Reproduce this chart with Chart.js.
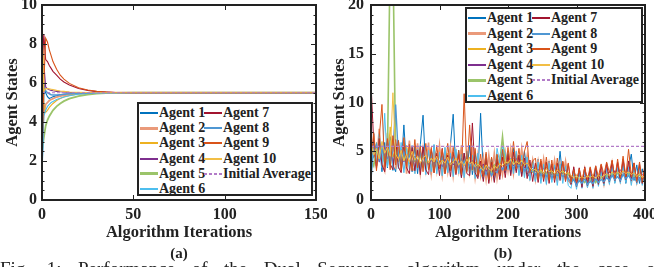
<!DOCTYPE html>
<html>
<head>
<meta charset="utf-8">
<script src="https://cdn.jsdelivr.net/npm/chart.js@4.4.1/dist/chart.umd.min.js"></script>
<style>
  body { margin: 0; width: 654px; height: 267px; overflow: hidden; background: #fff; position: relative;
         font-family: 'Liberation Serif', 'Times New Roman', serif; color: #222; }
  canvas { position: absolute; top: 0; }
  #chartA { left: 0; }
  #chartB { left: 327px; }
  .legend { position: absolute; background: #fff; border: 2px solid #222; box-sizing: border-box;
            font-weight: bold; font-size: 14px; }
  .legend .item { position: absolute; height: 15px; line-height: 15px; white-space: nowrap; }
  .legend .swatch { position: absolute; top: 8px; width: 18px; }
  .legend .txt { position: absolute; left: 19px; top: 0; }
  .sub { position: absolute; top: 245px; font-weight: bold; font-size: 15px; line-height: 16px; width: 40px; text-align: center; }
  #caption { position: absolute; left: 0; top: 259px; width: 662px; font-size: 19px; line-height: 19px;
             display: flex; justify-content: space-between; }
</style>
</head>
<body>
<canvas id="chartA" width="327" height="250"></canvas>
<canvas id="chartB" width="327" height="250"></canvas>
<div class="legend" id="legA" style="left:137px; top:102px; width:176px; height:94px;"></div>
<div class="legend" id="legB" style="left:465px; top:7px; width:178px; height:96px;"></div>
<div class="sub" style="left:159px;">(a)</div>
<div class="sub" style="left:483px;">(b)</div>
<div id="caption"><span>Fig.</span><span>1:</span><span>Performance</span><span>of</span><span>the</span><span>Dual</span><span>Sequence</span><span>algorithm</span><span>under</span><span>the</span><span>case</span><span>of</span></div>
<script>
// ---- data ----
const agentLabels = ['Agent 1', 'Agent 2', 'Agent 3', 'Agent 4', 'Agent 5',
                     'Agent 6', 'Agent 7', 'Agent 8', 'Agent 9', 'Agent 10'];
const initialAverage = 5.5;

// (a) consensus run, sampled at these iterations
const itersA = [0, 1, 2, 3, 4, 5, 6, 8, 10, 12, 15, 20, 25, 30, 35, 40, 50, 150];
const statesA = [
  [1.0, 6.0, 5.5, 5.3, 5.2, 5.25, 5.3, 5.35, 5.4, 5.42, 5.45, 5.48, 5.49, 5.5, 5.5, 5.5, 5.5, 5.5],
  [3.0, 4.5, 4.9, 5.0, 5.1, 5.15, 5.2, 5.28, 5.33, 5.37, 5.42, 5.46, 5.48, 5.49, 5.5, 5.5, 5.5, 5.5],
  [10.0, 5.0, 4.5, 4.6, 4.75, 4.85, 4.95, 5.1, 5.2, 5.28, 5.36, 5.44, 5.47, 5.49, 5.5, 5.5, 5.5, 5.5],
  [4.0, 7.0, 5.8, 5.7, 5.65, 5.62, 5.6, 5.57, 5.55, 5.54, 5.52, 5.51, 5.5, 5.5, 5.5, 5.5, 5.5, 5.5],
  [2.5, 3.2, 3.8, 4.1, 4.3, 4.45, 4.6, 4.8, 4.95, 5.07, 5.2, 5.33, 5.41, 5.46, 5.48, 5.49, 5.5, 5.5],
  [1.2, 4.3, 4.6, 4.8, 4.9, 5.0, 5.05, 5.15, 5.22, 5.28, 5.35, 5.42, 5.46, 5.48, 5.49, 5.5, 5.5, 5.5],
  [6.5, 8.5, 7.2, 7.1, 6.9, 6.75, 6.6, 6.4, 6.2, 6.05, 5.9, 5.72, 5.62, 5.56, 5.53, 5.51, 5.5, 5.5],
  [1.5, 5.8, 5.6, 5.5, 5.45, 5.4, 5.38, 5.38, 5.4, 5.42, 5.45, 5.47, 5.49, 5.5, 5.5, 5.5, 5.5, 5.5],
  [2.0, 6.0, 8.3, 8.1, 7.7, 7.4, 7.1, 6.7, 6.4, 6.2, 5.98, 5.76, 5.64, 5.57, 5.53, 5.51, 5.5, 5.5],
  [9.0, 5.6, 5.7, 5.72, 5.7, 5.68, 5.66, 5.62, 5.59, 5.57, 5.54, 5.52, 5.51, 5.5, 5.5, 5.5, 5.5, 5.5]
];

// (b) noisy run, every 4th iteration
const itersB = [0, 4, 8, 12, 16, 20, 24, 28, 32, 36, 40, 44, 48, 52, 56, 60, 64, 68, 72, 76, 80, 84, 88, 92, 96,
  100, 104, 108, 112, 116, 120, 124, 128, 132, 136, 140, 144, 148, 152, 156, 160, 164, 168, 172, 176, 180, 184, 188, 192, 196,
  200, 204, 208, 212, 216, 220, 224, 228, 232, 236, 240, 244, 248, 252, 256, 260, 264, 268, 272, 276, 280, 284, 288, 292, 296,
  300, 304, 308, 312, 316, 320, 324, 328, 332, 336, 340, 344, 348, 352, 356, 360, 364, 368, 372, 376, 380, 384, 388, 392, 396,
  400];
const statesB = [
  [1.5, 6.8, 3.4, 6.2, 2.9, 5.9, 3.3, 6.5, 3.6, 2.9, 6.1, 3.2, 7.7, 3.3, 5.8, 2.9, 5.5, 2.7, 5.7, 8.7,
   3.0, 5.3, 2.6, 5.6, 3.1, 5.2, 2.5, 5.0, 2.8, 5.7, 8.8, 2.8, 5.1, 2.3, 4.8, 3.0, 5.6, 2.6, 4.9, 2.4,
   8.9, 2.6, 4.7, 2.1, 4.3, 2.0, 4.6, 2.5, 5.1, 2.8, 4.9, 2.7, 5.3, 3.0, 4.6, 2.5, 5.0, 2.8, 2.3, 4.1,
   2.0, 4.2, 2.2, 3.9, 1.9, 4.0, 2.1, 3.7, 2.0, 5.0, 2.2, 3.7, 2.0, 1.6, 3.2, 1.3, 2.9, 1.5, 3.1, 1.3,
   2.8, 1.4, 3.2, 1.7, 2.9, 1.5, 3.4, 1.8, 3.7, 1.8, 3.5, 1.9, 3.8, 1.7, 3.3, 4.7, 2.0, 3.6, 1.7, 3.2, 1.9],
  [3.5, 6.6, 3.5, 7.3, 3.9, 3.0, 6.9, 3.6, 6.3, 3.2, 6.0, 2.9, 5.7, 2.7, 6.1, 3.4, 2.9, 5.8, 2.8, 5.3,
   3.1, 5.9, 2.7, 5.1, 3.0, 5.6, 2.6, 5.0, 2.9, 5.4, 2.5, 4.9, 3.0, 5.6, 2.4, 4.7, 2.8, 5.2, 2.3, 4.6,
   2.5, 4.4, 2.1, 4.6, 2.4, 4.8, 2.2, 4.2, 2.6, 4.9, 3.0, 5.2, 2.7, 4.7, 3.1, 5.3, 2.8, 4.6, 2.4, 4.1,
   2.1, 4.0, 2.3, 4.2, 2.0, 3.8, 2.4, 4.1, 2.1, 3.7, 2.3, 4.0, 2.0, 1.7, 3.1, 1.5, 2.9, 1.8, 3.2, 1.6,
   2.9, 1.5, 3.1, 1.8, 2.9, 1.6, 3.3, 1.9, 3.8, 2.1, 3.6, 2.0, 3.9, 2.2, 3.7, 1.9, 3.4, 1.8, 3.2, 1.9, 3.0],
  [6.5, 4.3, 5.9, 4.0, 5.2, 4.7, 3.8, 7.5, 4.4, 5.3, 3.9, 5.0, 4.2, 5.6, 3.7, 4.6, 3.9, 5.1, 3.5, 4.4,
   4.0, 3.6, 4.9, 3.8, 4.5, 3.4, 4.2, 3.6, 4.8, 3.3, 4.1, 3.5, 4.6, 3.2, 4.0, 3.7, 4.4, 3.0, 3.9, 3.4,
   3.6, 3.0, 3.8, 2.8, 3.5, 3.1, 3.9, 3.3, 4.3, 3.7, 4.1, 3.6, 4.3, 3.8, 3.4, 4.2, 3.5, 3.9, 3.2, 2.8,
   3.3, 2.7, 3.1, 2.6, 3.4, 2.8, 3.0, 2.5, 3.2, 2.7, 3.0, 2.6, 2.8, 2.4, 2.2, 2.6, 2.0, 2.4, 2.1, 2.5,
   2.2, 2.6, 2.0, 2.4, 2.1, 2.5, 2.7, 2.3, 2.9, 2.5, 2.8, 2.4, 3.0, 2.6, 2.8, 2.5, 3.1, 2.4, 2.6, 2.2, 2.4],
  [5.0, 4.4, 5.6, 3.9, 4.8, 5.4, 4.2, 5.1, 3.8, 4.7, 4.3, 5.2, 3.9, 4.6, 4.0, 3.7, 4.5, 3.9, 5.0, 3.6,
   4.4, 3.8, 4.1, 3.5, 4.6, 3.9, 3.4, 4.2, 3.7, 4.5, 3.6, 4.0, 3.3, 4.3, 3.5, 3.9, 3.2, 4.1, 3.4, 3.8,
   3.3, 3.7, 2.9, 3.4, 2.7, 3.6, 3.0, 3.5, 3.2, 3.8, 3.7, 4.0, 3.5, 4.3, 3.6, 3.9, 3.3, 3.7, 3.1, 3.4,
   2.9, 3.2, 2.7, 3.3, 2.8, 3.1, 2.6, 3.4, 2.9, 3.0, 2.7, 3.1, 2.6, 2.3, 2.5, 2.1, 2.6, 2.2, 2.4, 2.0,
   2.3, 2.1, 2.5, 2.0, 2.4, 2.2, 2.6, 2.9, 2.5, 3.0, 2.7, 3.1, 2.8, 2.5, 3.0, 2.6, 2.8, 2.5, 2.3, 2.6, 2.5],
  [4.2, 3.5, 5.1, 4.4, 5.6, 3.9, 4.8, 25.0, 25.0, 4.3, 4.9, 3.7, 4.5, 4.0, 5.0, 3.6, 4.3, 3.8, 4.7, 3.5,
   4.1, 3.7, 4.5, 3.4, 4.0, 3.6, 4.3, 3.2, 3.9, 3.5, 4.2, 3.3, 3.8, 3.5, 4.1, 3.2, 3.7, 3.4, 3.0, 3.8,
   3.4, 2.9, 3.5, 3.1, 2.8, 3.6, 3.2, 3.9, 6.5, 3.6, 3.8, 3.4, 4.0, 3.5, 3.9, 3.3, 3.7, 3.2, 3.5, 2.9,
   3.1, 2.6, 3.0, 2.4, 2.8, 2.5, 2.9, 2.3, 2.7, 2.6, 2.9, 2.4, 2.7, 2.2, 2.0, 2.3, 1.9, 2.1, 1.8, 2.2,
   2.0, 2.3, 1.8, 2.2, 2.4, 2.1, 2.5, 2.3, 2.7, 2.4, 2.8, 2.3, 2.6, 2.4, 2.7, 2.2, 2.5, 2.3, 2.6, 2.1, 2.3],
  [2.5, 6.2, 3.8, 6.8, 3.3, 8.9, 3.4, 6.1, 3.0, 5.7, 3.2, 5.9, 2.8, 5.3, 3.1, 5.6, 2.7, 5.2, 3.0, 5.4,
   2.6, 5.1, 2.9, 5.7, 2.7, 4.9, 2.5, 5.4, 2.8, 4.8, 2.4, 5.2, 2.7, 4.7, 2.3, 5.0, 2.6, 4.6, 2.2, 4.8,
   2.7, 2.1, 4.6, 1.9, 4.2, 2.0, 5.3, 3.8, 5.5, 4.8, 3.1, 4.3, 2.7, 5.0, 2.5, 4.6, 2.3, 4.4, 2.0, 4.0,
   1.9, 3.9, 1.7, 3.7, 1.6, 3.8, 1.8, 3.6, 1.5, 3.7, 1.7, 3.5, 1.5, 1.2, 2.9, 1.1, 2.8, 1.2, 3.0, 1.3,
   2.8, 1.2, 3.1, 1.4, 2.9, 1.5, 3.2, 1.6, 3.4, 1.7, 3.3, 1.7, 3.5, 1.8, 3.4, 1.5, 3.2, 1.6, 3.3, 1.5, 3.0],
  [12.0, 5.8, 3.2, 6.3, 3.6, 2.9, 6.0, 3.7, 3.1, 6.2, 3.4, 2.8, 5.6, 3.3, 2.7, 5.4, 3.0, 5.1, 2.6, 5.5,
   3.1, 2.6, 5.2, 2.8, 4.8, 2.5, 5.3, 2.7, 4.6, 2.4, 4.9, 2.6, 4.7, 2.3, 4.8, 2.7, 2.5, 7.9, 2.8, 2.2,
   4.0, 1.9, 4.3, 1.7, 3.9, 1.8, 4.2, 2.1, 4.4, 2.3, 4.7, 2.5, 4.9, 2.8, 4.6, 2.4, 4.3, 2.2, 4.1, 1.9,
   3.8, 1.8, 4.0, 1.9, 3.9, 1.7, 3.7, 1.8, 3.8, 2.0, 3.9, 1.9, 3.7, 1.6, 3.4, 1.4, 3.3, 1.3, 3.4, 1.5,
   3.3, 1.4, 3.5, 1.6, 3.6, 1.7, 3.8, 1.9, 4.0, 2.0, 3.9, 1.9, 4.2, 2.1, 4.0, 2.0, 3.8, 1.8, 3.7, 1.7, 3.5],
  [3.0, 4.8, 5.7, 4.1, 5.2, 4.4, 5.8, 4.0, 5.0, 9.8, 4.5, 3.8, 5.0, 4.0, 4.6, 3.7, 4.4, 3.9, 4.9, 3.6,
   4.3, 3.7, 4.6, 3.4, 4.1, 3.8, 4.4, 3.3, 4.0, 3.6, 4.3, 3.5, 3.9, 3.2, 4.0, 3.4, 3.8, 3.1, 3.6, 3.3,
   3.0, 3.4, 2.6, 3.3, 2.5, 3.0, 2.8, 3.5, 3.1, 3.6, 3.5, 3.9, 3.2, 3.7, 3.4, 3.8, 3.0, 3.4, 2.8, 3.1,
   2.6, 3.0, 2.5, 2.8, 2.4, 2.9, 2.3, 2.7, 2.5, 2.8, 2.4, 2.6, 2.2, 1.8, 2.1, 1.5, 2.0, 1.7, 2.2, 1.6,
   1.9, 1.7, 2.2, 1.8, 2.1, 1.9, 2.3, 2.0, 2.5, 2.1, 2.4, 2.0, 2.6, 2.2, 2.5, 2.1, 2.3, 1.9, 2.2, 2.0, 2.1],
  [4.0, 6.9, 3.0, 6.4, 9.8, 3.4, 6.3, 3.1, 6.6, 3.6, 6.1, 3.1, 6.4, 3.4, 5.7, 3.0, 6.2, 3.3, 5.5, 2.9,
   5.8, 3.1, 5.4, 2.8, 5.6, 3.2, 5.2, 2.7, 5.8, 3.0, 5.4, 2.8, 5.1, 2.6, 10.9, 2.9, 7.7, 3.1, 5.3, 2.5,
   4.7, 2.4, 4.9, 2.1, 4.4, 2.5, 4.7, 2.6, 5.2, 3.0, 5.4, 3.1, 6.0, 3.2, 5.3, 2.9, 5.0, 6.0, 2.8, 4.0,
   4.3, 2.1, 4.2, 2.2, 4.4, 2.0, 4.1, 2.1, 4.3, 2.3, 4.0, 2.0, 3.8, 1.8, 3.1, 1.9, 3.2, 2.0, 3.3, 2.1,
   3.4, 2.2, 3.5, 2.4, 3.7, 2.6, 3.9, 2.8, 4.1, 2.2, 4.2, 2.3, 4.5, 2.4, 5.2, 2.5, 3.8, 1.9, 3.9, 1.8, 3.7],
  [5.8, 4.6, 5.3, 4.2, 6.0, 4.8, 5.4, 4.5, 11.0, 4.7, 4.2, 5.1, 4.0, 4.7, 3.9, 5.0, 4.1, 4.5, 3.8, 4.3,
   4.6, 3.8, 4.3, 3.9, 4.5, 3.6, 4.1, 3.8, 4.4, 3.6, 3.9, 4.3, 3.6, 4.0, 3.5, 4.2, 3.7, 3.9, 3.4, 3.7,
   3.4, 3.0, 3.6, 3.2, 3.0, 3.5, 3.3, 3.7, 3.5, 3.9, 3.8, 4.2, 3.6, 4.0, 3.7, 4.1, 3.6, 3.8, 3.3, 3.0,
   3.2, 2.8, 3.1, 2.7, 3.2, 2.9, 3.0, 2.7, 3.1, 2.8, 3.0, 2.7, 2.8, 2.5, 2.3, 2.5, 2.2, 2.4, 2.2, 2.5,
   2.3, 2.5, 2.2, 2.6, 2.3, 2.5, 2.7, 2.5, 2.9, 2.6, 2.9, 2.6, 3.0, 2.7, 2.9, 2.6, 2.8, 2.4, 2.7, 2.3, 2.5]
];

const ticksAX = [0, 50, 100, 150];
const ticksAY = [0, 2, 4, 6, 8, 10];
const ticksBX = [0, 100, 200, 300, 400];
const ticksBY = [0, 5, 10, 15, 20];

// ---- styling ----
const agentColors = ['#0072BD', '#EA9A7A', '#EDB120', '#7E2F8E', '#9BC46A',
                     '#4DBEEE', '#A2142F', '#4F97D3', '#D95319', '#F2BE45'];
const agentWidths = [1.1, 1.8, 1.1, 1.1, 1.8, 1.1, 1.1, 1.5, 1.1, 1.1];
const avgColor = '#B27BC8';
const ink = '#222';
const serif = "'Liberation Serif', 'Times New Roman', serif";

// box around the plot with inward ticks (matlab look)
const boxTicks = {
  id: 'boxTicks',
  afterDatasetsDraw(chart, args, opts) {
    const { ctx, chartArea: a, scales: { x, y } } = chart;
    ctx.save();
    ctx.strokeStyle = ink;
    ctx.lineWidth = 1;
    ctx.beginPath();
    x.ticks.forEach(t => {
      const px = Math.round(x.getPixelForValue(t.value)) + 0.5;
      ctx.moveTo(px, a.bottom); ctx.lineTo(px, a.bottom - 5);
      ctx.moveTo(px, a.top); ctx.lineTo(px, a.top + 5);
    });
    y.ticks.forEach(t => {
      const py = Math.round(y.getPixelForValue(t.value)) + 0.5;
      ctx.moveTo(a.left, py); ctx.lineTo(a.left + 5, py);
      ctx.moveTo(a.right, py); ctx.lineTo(a.right - 5, py);
    });
    const n = Math.round((y.max - y.min) / opts.yMinor);
    for (let i = 1; i < n; i++) {
      const py = Math.round(y.getPixelForValue(y.min + i * opts.yMinor)) + 0.5;
      ctx.moveTo(a.left, py); ctx.lineTo(a.left + 2.5, py);
      ctx.moveTo(a.right, py); ctx.lineTo(a.right - 2.5, py);
    }
    ctx.stroke();
    ctx.lineWidth = 2;
    ctx.strokeRect(a.left, a.top, a.right - a.left, a.bottom - a.top);
    ctx.restore();
  }
};

function makeDatasets(iters, states, xMax, width) {
  const sets = states.map((vals, i) => ({
    label: agentLabels[i],
    data: vals.map((v, j) => ({ x: iters[j], y: v })),
    borderColor: agentColors[i],
    borderWidth: agentWidths[i] * width,
    pointRadius: 0,
    tension: 0,
    clip: 0,
    order: 20 - i
  }));
  sets.push({
    label: 'Initial Average',
    data: [{ x: 0, y: initialAverage }, { x: xMax, y: initialAverage }],
    borderColor: avgColor,
    borderWidth: 1.2,
    borderDash: [3, 2],
    pointRadius: 0,
    clip: 0,
    order: 0
  });
  return sets;
}

function makeChart(id, iters, states, xTicks, yTicks, yMinor, yWidth, padRight, tickPad, width) {
  const xMax = xTicks[xTicks.length - 1];
  const yMax = yTicks[yTicks.length - 1];
  const tickFont = { family: serif, size: 16, weight: 'bold' };
  const titleFont = { family: serif, size: 16.5, weight: 'bold' };
  return new Chart(document.getElementById(id), {
    type: 'line',
    data: { datasets: makeDatasets(iters, states, xMax, width) },
    options: {
      responsive: false,
      animation: false,
      events: [],
      layout: { padding: { left: 0, top: 5, right: padRight, bottom: 0 } },
      plugins: { legend: { display: false }, tooltip: { enabled: false }, boxTicks: { yMinor: yMinor } },
      scales: {
        x: {
          type: 'linear', min: 0, max: xMax,
          afterBuildTicks: s => { s.ticks = xTicks.map(v => ({ value: v })); },
          afterFit: s => { s.height = 50; s.paddingLeft = 0; s.paddingRight = 0; },
          grid: { display: false, drawTicks: false },
          border: { display: false },
          ticks: { color: ink, padding: 5, maxRotation: 0, font: tickFont },
          title: { display: true, text: 'Algorithm Iterations', color: ink,
                   padding: { top: 0, bottom: 7 }, font: titleFont }
        },
        y: {
          type: 'linear', min: 0, max: yMax,
          afterBuildTicks: s => { s.ticks = yTicks.map(v => ({ value: v })); },
          afterFit: s => { s.width = yWidth; s.paddingTop = 0; s.paddingBottom = 0; },
          grid: { display: false, drawTicks: false },
          border: { display: false },
          ticks: { color: ink, padding: tickPad, font: tickFont },
          title: { display: true, text: 'Agent States', color: ink,
                   padding: { top: 3, bottom: 0 }, font: titleFont }
        }
      }
    },
    plugins: [boxTicks]
  });
}

// legends (two columns, matlab style)
function buildLegend(id, rowGap) {
  const box = document.getElementById(id);
  const entries = agentLabels.map((l, i) => ({ label: l, color: agentColors[i], w: agentWidths[i] }));
  entries.push({ label: 'Initial Average', color: avgColor, w: 1.2, dashed: true });
  entries.forEach((e, i) => {
    const col = i < 6 ? 0 : 1;
    const row = i < 6 ? i : i - 6;
    const item = document.createElement('div');
    item.className = 'item';
    item.style.left = (col === 0 ? 1 : 65) + 'px';
    item.style.top = (1 + row * rowGap) + 'px';
    const sw = document.createElement('span');
    sw.className = 'swatch';
    const h = Math.max(1, Math.round(e.w * 1.6));
    sw.style.height = h + 'px';
    sw.style.marginTop = (-h / 2) + 'px';
    sw.style.background = e.dashed
      ? `repeating-linear-gradient(to right, ${e.color} 0 3px, transparent 3px 5px)`
      : e.color;
    const tx = document.createElement('span');
    tx.className = 'txt';
    tx.textContent = e.label;
    item.appendChild(sw);
    item.appendChild(tx);
    box.appendChild(item);
  });
}
buildLegend('legA', 15.2);
buildLegend('legB', 15.5);

// wait for the bold serif face before the canvases draw text
document.fonts.load("bold 16px 'Liberation Serif'").then(() => {
  makeChart('chartA', itersA, statesA, ticksAX, ticksAY, 0.5, 42, 11, 5, 1);
  makeChart('chartB', itersB, statesB, ticksBX, ticksBY, 1, 44, 9, 7, 0.9);
});
</script>
</body>
</html>
